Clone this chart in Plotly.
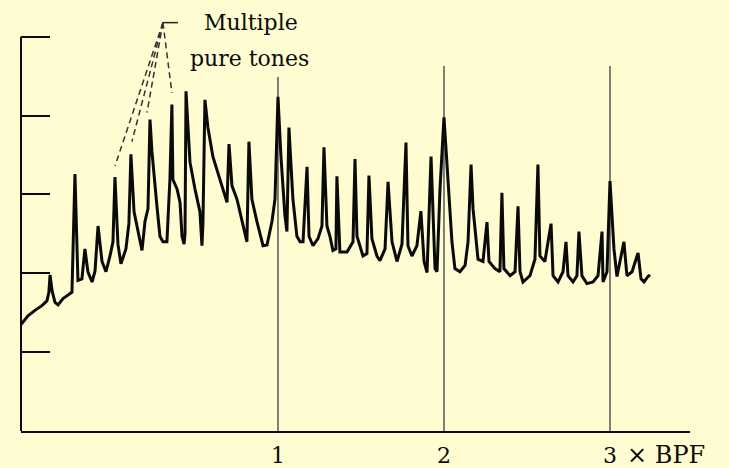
import plotly.graph_objects as go

# ---- data (frequency in multiples of blade-passing frequency, level in dB) ----
freq_bpf = [
    -0.548, -0.506, -0.464, -0.422, -0.392, -0.380, -0.373, -0.361, -0.343, -0.325,
    -0.295, -0.265, -0.241, -0.223, -0.211, -0.205, -0.181, -0.163, -0.145, -0.120,
    -0.102, -0.084, -0.060, -0.036, -0.012, 0.006, 0.018, 0.036, 0.054,
    0.084, 0.102, 0.114, 0.133, 0.163, 0.181, 0.199, 0.217, 0.229, 0.241,
    0.271, 0.289, 0.307, 0.331, 0.349, 0.361, 0.367, 0.392, 0.410, 0.422,
    0.434, 0.440, 0.446, 0.470, 0.500, 0.530, 0.542, 0.548, 0.560, 0.578,
    0.608, 0.651, 0.693, 0.705, 0.723, 0.753, 0.789, 0.813, 0.825, 0.843,
    0.873, 0.910, 0.934, 0.964, 0.982, 1.000, 1.018, 1.042, 1.054, 1.066,
    1.090, 1.114, 1.133, 1.151, 1.175, 1.187, 1.211, 1.241, 1.265, 1.277,
    1.295, 1.313, 1.331, 1.349, 1.355, 1.373, 1.416, 1.452, 1.464, 1.476,
    1.512, 1.536, 1.548, 1.566, 1.596, 1.614, 1.645, 1.663, 1.687, 1.717,
    1.747, 1.771, 1.783, 1.807, 1.837, 1.861, 1.880, 1.898, 1.922, 1.946,
    1.958, 1.976, 2.000, 2.024, 2.048, 2.066, 2.096, 2.127, 2.145, 2.163,
    2.175, 2.205, 2.235, 2.259, 2.271, 2.307, 2.337, 2.349, 2.361, 2.398,
    2.428, 2.446, 2.458, 2.476, 2.518, 2.548, 2.566, 2.578, 2.608, 2.627,
    2.645, 2.657, 2.687, 2.717, 2.735, 2.747, 2.777, 2.801, 2.813, 2.831,
    2.861, 2.898, 2.928, 2.952, 2.958, 2.982, 3.000, 3.024, 3.042, 3.084,
    3.102, 3.133, 3.169, 3.187, 3.205, 3.229, 3.241,
]
level_db = [
    13.5, 14.6, 15.3, 15.9, 16.5, 17.6, 19.8, 17.8, 16.3, 16.0,
    16.8, 17.2, 17.6, 32.6, 20.8, 19.1, 19.3, 23.1, 20.2, 18.9,
    20.3, 26.0, 21.5, 20.2, 22.2, 24.0, 32.2, 23.7, 21.2,
    23.1, 26.3, 35.1, 27.8, 24.7, 22.9, 26.6, 28.2, 39.5, 35.4,
    28.5, 24.7, 24.0, 24.0, 31.9, 41.4, 31.9, 30.7, 29.0, 24.7,
    23.7, 25.0, 43.1, 34.1, 30.7, 27.8, 23.5, 26.3, 42.0, 38.5,
    34.8, 31.9, 29.0, 36.4, 31.1, 29.4, 26.0, 24.0, 36.7, 29.4,
    26.6, 23.5, 23.6, 26.6, 29.4, 42.4, 34.8, 27.3, 25.3, 38.5,
    29.4, 24.7, 24.0, 24.0, 33.5, 24.7, 23.5, 24.4, 26.0, 36.0,
    26.0, 24.7, 22.9, 23.1, 32.3, 22.7, 22.7, 24.0, 34.5, 24.7,
    22.2, 22.5, 32.4, 24.4, 22.2, 21.6, 23.1, 31.6, 24.0, 21.5,
    23.7, 36.6, 23.5, 22.2, 23.5, 27.9, 21.5, 20.1, 34.8, 20.6,
    20.2, 30.7, 39.8, 32.3, 24.0, 20.6, 20.2, 21.0, 24.0, 33.8,
    28.2, 21.8, 21.5, 26.5, 21.5, 20.6, 20.2, 30.2, 20.6, 19.7,
    20.2, 28.5, 20.2, 18.9, 19.7, 21.8, 33.8, 22.2, 21.5, 24.0,
    26.3, 19.7, 18.9, 20.2, 24.0, 19.7, 18.9, 19.7, 25.3, 19.7,
    18.7, 18.9, 19.7, 25.3, 18.9, 20.2, 31.7, 23.1, 19.6, 24.0,
    19.7, 20.2, 22.6, 19.3, 18.9, 19.6, 19.8,
]

# harmonic marker lines (multiples of BPF) and their top levels
bpf_marks = [1, 2, 3]
bpf_mark_tops = [44.9, 46.3, 46.3]
bpf_labels = ["1", "2", "3"]
bpf_unit_label = "× BPF"

# y-axis level ticks (dB)
level_ticks = [10, 20, 30, 40, 50]

# "Multiple pure tones" callout
callout_origin = (0.307, 51.8)
callout_bar_end = 0.398
tone_x = [0.018, 0.120, 0.211, 0.361]
tone_y = [33.6, 36.7, 40.4, 42.9]

BG = "#FEFCD0"
SERIF = "DejaVu Serif, Liberation Serif, serif"
INK = "#0a0a0a"

fig = go.Figure()

fig.add_trace(go.Scatter(
    x=freq_bpf, y=level_db, mode="lines",
    line=dict(color=INK, width=3), hoverinfo="skip", showlegend=False,
))

for tx, ty in zip(tone_x, tone_y):
    fig.add_trace(go.Scatter(
        x=[callout_origin[0], tx], y=[callout_origin[1], ty], mode="lines",
        line=dict(color="#333333", width=1.5, dash="6px,4px"),
        hoverinfo="skip", showlegend=False,
    ))

shapes = []
for bx, top in zip(bpf_marks, bpf_mark_tops):
    shapes.append(dict(type="line", xref="x", yref="y", x0=bx, x1=bx, y0=0, y1=top,
                       line=dict(color="#555555", width=1.5), layer="below"))
# y axis line up to the top tick
shapes.append(dict(type="line", xref="paper", yref="y", x0=0, x1=0, y0=0, y1=max(level_ticks),
                   line=dict(color=INK, width=2)))
# callout bar
shapes.append(dict(type="line", xref="x", yref="y", x0=callout_origin[0], x1=callout_bar_end,
                   y0=callout_origin[1], y1=callout_origin[1],
                   line=dict(color="#222222", width=1.5)))

annotations = [
    dict(x=0.837, y=51.8, xref="x", yref="y", text="Multiple", showarrow=False,
         font=dict(family=SERIF, size=22, color=INK), xanchor="center", yanchor="middle"),
    dict(x=0.831, y=47.3, xref="x", yref="y", text="pure tones", showarrow=False,
         font=dict(family=SERIF, size=22, color=INK), xanchor="center", yanchor="middle"),
    dict(x=3.09, y=-0.055, xref="x", yref="paper", text=bpf_unit_label, showarrow=False,
         font=dict(family=SERIF, size=24, color=INK), xanchor="left", yanchor="middle"),
]

fig.update_layout(
    width=729, height=468,
    margin=dict(l=21, r=39, t=0, b=35),
    paper_bgcolor=BG, plot_bgcolor=BG,
    shapes=shapes, annotations=annotations,
    xaxis=dict(range=[-0.548, 3.482], showgrid=False, zeroline=False,
               showline=True, linecolor=INK, linewidth=2,
               tickvals=bpf_marks, ticktext=bpf_labels, ticks="",
               tickfont=dict(family=SERIF, size=22, color=INK),
               ticklabelstandoff=4),
    yaxis=dict(range=[0, 54.67], showgrid=False, zeroline=False, showline=False,
               tickvals=level_ticks, ticks="inside", ticklen=29, tickwidth=2,
               tickcolor=INK, showticklabels=False),
)

fig.write_html(
    "out.html",
    config={"displayModeBar": False},
    post_script="document.body.style.margin='0';document.body.style.background='%s';" % BG,
)
